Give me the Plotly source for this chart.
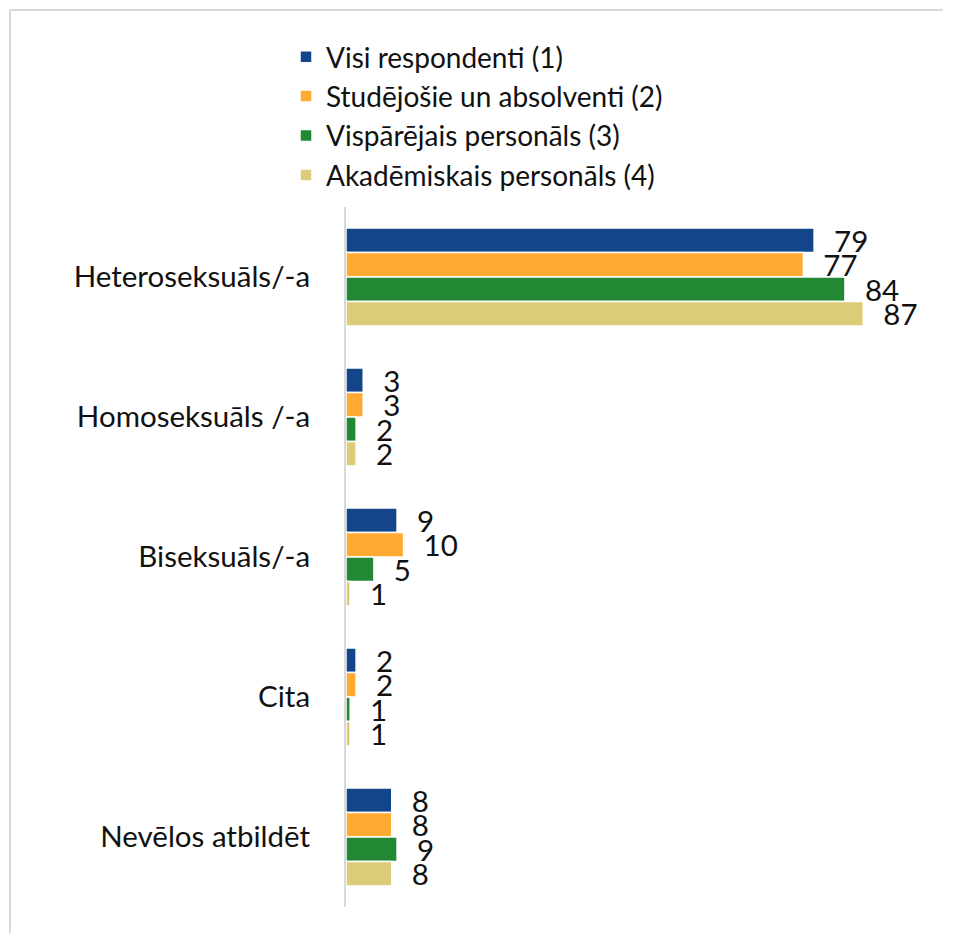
import plotly.graph_objects as go

categories = ["Heteroseksuāls/-a", "Homoseksuāls /-a", "Biseksuāls/-a", "Cita", "Nevēlos atbildēt"]
series_names = ["Visi respondenti (1)", "Studējošie un absolventi (2)",
                "Vispārējais personāls (3)", "Akadēmiskais personāls (4)"]
visi = [78.8, 2.9, 8.6, 1.7, 7.7]
studejosie = [77.0, 2.9, 9.7, 1.7, 7.7]
visparejais = [84.0, 1.7, 4.7, 0.7, 8.6]
akademiskais = [87.1, 1.7, 0.7, 0.7, 7.7]
colors = ["#13458a", "#ffaa33", "#228833", "#ddcc77"]

FONT = "Lato"
FS = 29.5
LFS = 28
# page has an 8px body margin; figure kept small enough to avoid scrollbars
W, H = 935, 925
L, T = 338, 199
PW, PH = 594, 700
R = W - L - PW
B = H - T - PH

fig = go.Figure()
for name, vals, col in zip(series_names, [visi, studejosie, visparejais, akademiskais], colors):
    fig.add_trace(go.Bar(
        y=categories, x=vals, name=name, orientation="h",
        marker=dict(color=col, line=dict(color="white", width=1.5)),
        texttemplate="\u00a0\u00a0\u200a%{x:.0f}", textposition="outside",
        textfont=dict(family=FONT, size=FS, color="#111111"),
        constraintext="none", cliponaxis=False,
    ))

bx = (2 - L) / PW
by = (T + PH - 2) / PH
border = dict(color="#d9d9d9", width=2)
fig.update_layout(
    width=W, height=H,
    margin=dict(l=L, r=R, t=T, b=B, autoexpand=False),
    paper_bgcolor="white", plot_bgcolor="white",
    barmode="group", bargap=0.3, bargroupgap=0.0,
    font=dict(family=FONT, size=FS, color="#111111"),
    showlegend=True,
    legend=dict(
        xref="container", yref="container",
        x=278 / W, y=1 - 24 / H, xanchor="left", yanchor="top",
        font=dict(family=FONT, size=LFS, color="#111111"),
        traceorder="normal", itemwidth=30, tracegroupgap=0,
        bgcolor="rgba(0,0,0,0)",
    ),
    xaxis=dict(range=[0, 100], visible=False, fixedrange=True, automargin=False),
    yaxis=dict(
        autorange="reversed", showline=True, linecolor="#d9d9d9", linewidth=2,
        showgrid=False, zeroline=False, ticks="", ticklabelstandoff=28,
        automargin=False,
        tickfont=dict(family=FONT, size=FS, color="#111111"),
    ),
    shapes=[
        dict(type="line", xref="paper", yref="paper", x0=bx, x1=bx, y0=-0.2, y1=by,
             line=border, layer="below"),
        dict(type="line", xref="paper", yref="paper", x0=bx, x1=1.2, y0=by, y1=by,
             line=border, layer="below"),
    ],
)

fig.write_html("out.html")
